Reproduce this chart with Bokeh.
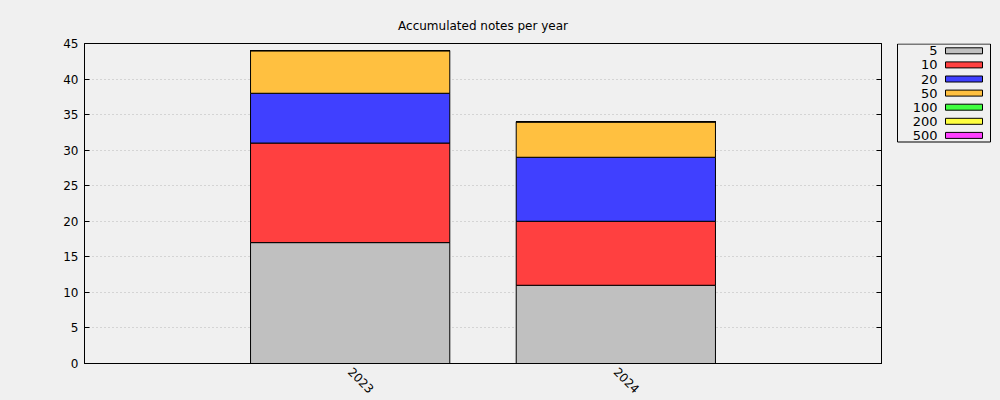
from bokeh.plotting import figure
from bokeh.models import ColumnDataSource, Range1d, LinearAxis, FixedTicker
from bokeh.layouts import row
from bokeh.embed import file_html
from bokeh.resources import INLINE
from bokeh.core.properties import value
import math

years = ["2023", "2024"]
denoms = ["5", "10", "20", "50", "100", "200", "500"]
colors = ["#c0c0c0", "#ff4040", "#4040ff", "#ffc040", "#40ff40", "#ffff40", "#ff40ff"]
counts = {
    "5": [17, 11],
    "10": [14, 9],
    "20": [7, 9],
    "50": [6, 5],
    "100": [0, 0],
    "200": [0, 0],
    "500": [0, 0],
}
yticks = [0, 5, 10, 15, 20, 25, 30, 35, 40, 45]

FONT = "DejaVu Sans"
BG = "#f0f0f0"

xs = list(range(len(years)))
data = {"x": xs}
for d in denoms:
    data[d] = counts[d]
src = ColumnDataSource(data)

p = figure(width=890, height=400, output_backend="svg", toolbar_location=None,
           x_range=Range1d(-1, len(years)), y_range=Range1d(0, 45),
           min_border_left=84, min_border_right=9, min_border_top=43, min_border_bottom=37,
           background_fill_color=BG, border_fill_color=BG,
           title="Accumulated notes per year")
p.title.align = "center"
p.title.text_font = FONT
p.title.text_font_size = "12px"
p.title.text_font_style = "normal"
p.title.text_color = "black"
p.title.standoff = 21
p.outline_line_color = "black"
p.outline_line_width = 1

p.vbar_stack(denoms, x="x", width=0.75, source=src, color=colors,
             line_color="black", line_width=1)

p.xgrid.grid_line_color = None
p.ygrid.ticker = FixedTicker(ticks=yticks)
p.ygrid.grid_line_color = "#b8b8b8"
p.ygrid.grid_line_dash = "1 3"
p.ygrid.grid_line_width = 1

p.yaxis.ticker = FixedTicker(ticks=yticks)
p.xaxis.ticker = FixedTicker(ticks=xs)
p.xaxis.major_label_overrides = {i: y for i, y in enumerate(years)}
p.xaxis.major_label_orientation = -math.pi / 4
for ax in [p.xaxis[0], p.yaxis[0]]:
    ax.major_tick_in = 5
    ax.major_tick_out = 0
    ax.minor_tick_line_color = None
    ax.axis_line_color = "black"
    ax.major_label_text_font = FONT
    ax.major_label_text_font_size = "12px"
    ax.major_label_text_color = "black"
    ax.major_label_standoff = 6
p.xaxis.major_tick_line_color = None

rax = LinearAxis(ticker=FixedTicker(ticks=yticks), major_tick_in=5, major_tick_out=0,
                 minor_tick_line_color=None, major_label_overrides={t: "" for t in yticks},
                 major_label_standoff=0)
p.add_layout(rax, "right")

# legend panel (frame is aligned with the main plot's frame: 43..363 px)
lg = figure(width=110, height=400, output_backend="svg", toolbar_location=None,
            x_range=Range1d(0, 110), y_range=Range1d(363, 43),
            x_axis_type=None, y_axis_type=None,
            min_border=0, min_border_left=0, min_border_right=0, min_border_top=0, min_border_bottom=0,
            background_fill_color=BG, border_fill_color=BG, outline_line_color=None)
lg.xgrid.grid_line_color = None
lg.ygrid.grid_line_color = None
n = len(denoms)
ys = [50.3 + 14.1 * i for i in range(n)]
lsrc = ColumnDataSource(dict(y=ys, label=denoms, color=colors,
                             top=[v - 3 for v in ys], bottom=[v + 3 for v in ys]))
lg.quad(left=7, right=100, top=43.5, bottom=141.5, fill_color=None, line_color="black", line_width=1)
lg.quad(left=55, right=92, top="top", bottom="bottom", fill_color="color",
        line_color="black", line_width=1, source=lsrc)
lg.text(x=47, y="y", text="label", source=lsrc, text_align="right", text_baseline="middle",
        text_font=value(FONT), text_font_size="13px", text_color="black")

layout = row(p, lg, spacing=0, styles={"background-color": BG})
open("out.html", "w").write(file_html(layout, INLINE))
